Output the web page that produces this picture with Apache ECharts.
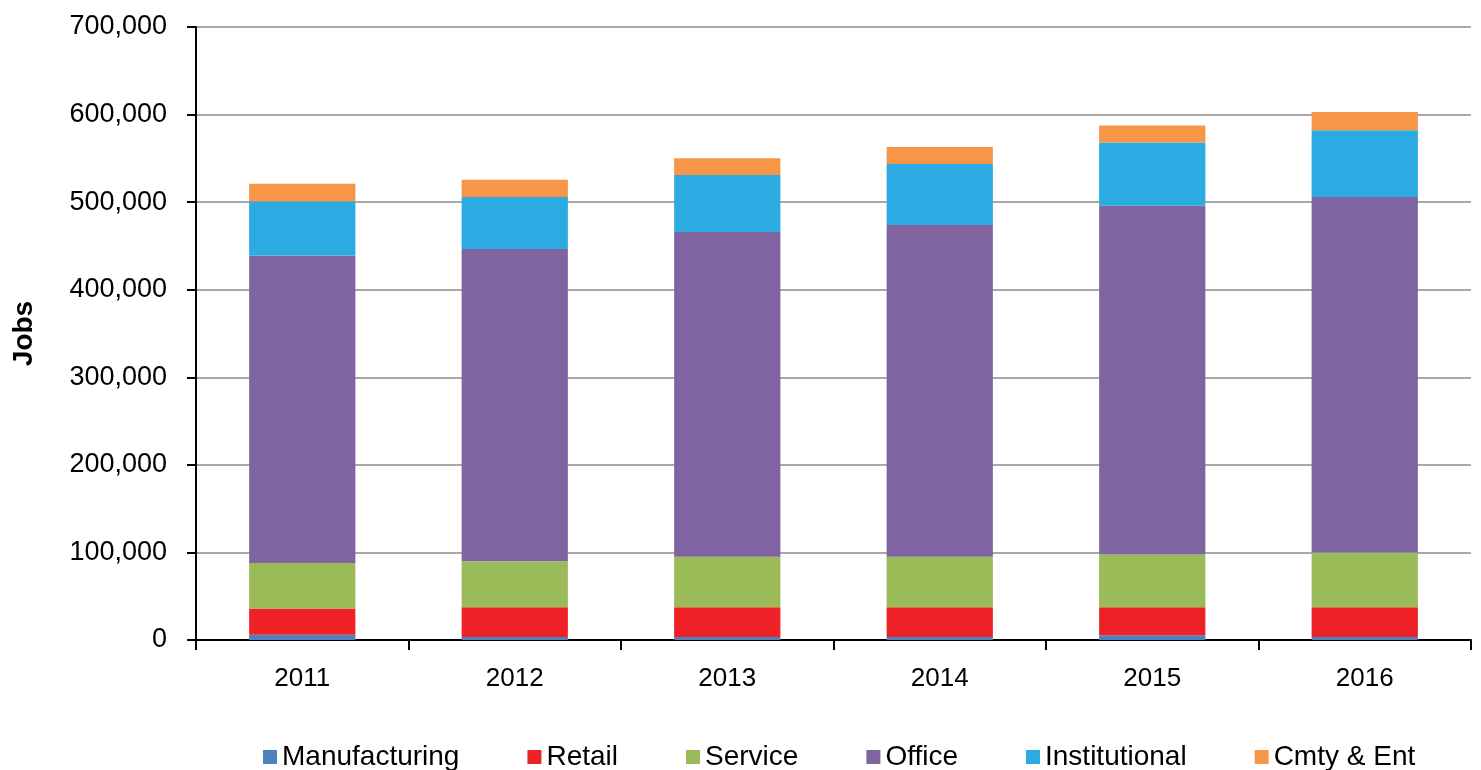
<!DOCTYPE html>
<html>
<head>
<meta charset="utf-8">
<script src="https://cdn.jsdelivr.net/npm/echarts@6/dist/echarts.min.js"></script>
<style>
  html, body { margin: 0; padding: 0; background: #fff; }
  #chart { width: 1481px; height: 770px; }
</style>
</head>
<body>
<div id="chart"></div>
<script>
// 数据（单位：岗位数）
const years = ['2011', '2012', '2013', '2014', '2015', '2016'];
const manufacturing = [6000, 3500, 3500, 3500, 5500, 3500];
const retail = [30000, 34000, 34000, 34000, 32000, 34000];
const service = [52000, 52500, 57500, 57500, 60000, 62500];
const office = [351000, 356500, 371000, 379000, 398500, 406000];
const institutional = [62000, 59500, 65000, 69500, 72000, 76000];
const cmtyEnt = [20000, 19500, 19000, 19500, 19500, 21000];

const chart = echarts.init(document.getElementById('chart'));

const font = 'Liberation Sans, Arial, sans-serif';
const mk = (name, data, color) => ({
  name, type: 'bar', stack: 'jobs', data, barWidth: '50%',
  itemStyle: {color},
  emphasis: {disabled: true}
});

chart.setOption({
  animation: false,
  textStyle: {fontFamily: font},
  grid: {left: 196, right: 10, top: 27, bottom: 130, containLabel: false, outerBoundsMode: 'none'},
  legend: {
    top: 738,
    left: 258,
    itemWidth: 14,
    itemHeight: 14,
    itemGap: 68,
    icon: 'rect',
    textStyle: {fontSize: 28, color: '#000', fontFamily: font},
    data: ['Manufacturing', 'Retail', 'Service', 'Office', 'Institutional', 'Cmty & Ent']
  },
  xAxis: {
    type: 'category',
    data: years,
    axisLine: {lineStyle: {color: '#000', width: 2}},
    axisTick: {show: true, length: 10, interval: 0, lineStyle: {color: '#000', width: 2}},
    axisLabel: {color: '#000', fontSize: 26, margin: 26}
  },
  yAxis: {
    type: 'value',
    min: 0,
    max: 700000,
    interval: 100000,
    name: 'Jobs',
    nameLocation: 'middle',
    nameGap: 158,
    nameTextStyle: {fontSize: 28, fontWeight: 'bold', color: '#000'},
    axisLine: {show: true, lineStyle: {color: '#000', width: 2}},
    axisTick: {show: true, length: 9, lineStyle: {color: '#000', width: 2}},
    axisLabel: {
      color: '#000', fontSize: 27, margin: 29,
      formatter: v => v.toLocaleString('en-US')
    },
    splitLine: {lineStyle: {color: '#a8a8a8', width: 2}}
  },
  series: [
    mk('Manufacturing', manufacturing, '#4f81bd'),
    mk('Retail', retail, '#ee2127'),
    mk('Service', service, '#9bbb59'),
    mk('Office', office, '#8064a2'),
    mk('Institutional', institutional, '#2cabe2'),
    mk('Cmty & Ent', cmtyEnt, '#f79646')
  ]
});
</script>
</body>
</html>
